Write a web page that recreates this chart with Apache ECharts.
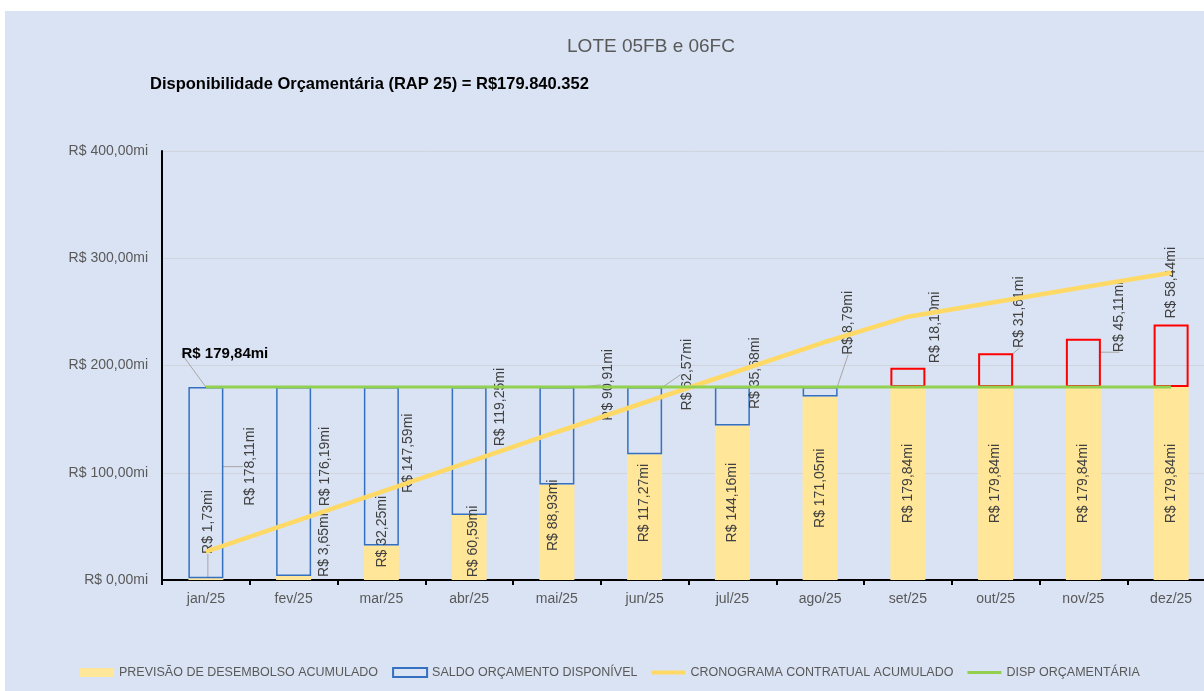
<!DOCTYPE html>
<html>
<head>
<meta charset="utf-8">
<title>LOTE 05FB e 06FC</title>
<script src="https://cdn.jsdelivr.net/npm/echarts@6/dist/echarts.min.js"></script>
<style>
    html, body { margin: 0; padding: 0; background: #ffffff; width: 1204px; height: 691px; overflow: hidden; }
    #main { position: absolute; left: 5px; top: 11px; width: 1210px; height: 680px; background: #DAE3F3; }
</style>
</head>
<body>
<div id="main"></div>
<script>
// meses do eixo x
var meses = ["jan/25", "fev/25", "mar/25", "abr/25", "mai/25", "jun/25", "jul/25", "ago/25", "set/25", "out/25", "nov/25", "dez/25"];
// valores em R$ milhoes
var previsao = [1.73, 3.65, 32.25, 60.59, 88.93, 117.27, 144.16, 171.05, 179.84, 179.84, 179.84, 179.84];
var saldo = [178.11, 176.19, 147.59, 119.25, 90.91, 62.57, 35.68, 8.79, 18.10, 31.61, 45.11, 58.44];
var cronograma = [26.4, 54.3, 82.2, 110.1, 138.0, 165.5, 193.0, 220.5, 245.5, 259.2, 272.9, 286.5];
var disponibilidade = 179.84;
// eixo y
var yMax = 400;
var yStep = 100;

// deslocamento dos rotulos (callouts do excel), [dx, dy] em px na tela
var previsaoShift = [[2, -57], [31, -33], [1, -31], [4, -6], [-4, -17], [0, -14], [0, 0], [0, 0], [0, 0], [0, 0], [0, 0], [0, 0]];
var saldoShift = [[44, -16], [32, -15], [27, -13], [31, -44], [51, -51], [43, -46], [23, -33], [28, -69], [27, -50], [24, -58], [36, -46], [0, -73]];
var previsaoLeader = [true, false, false, false, false, false, false, false, false, false, false, false];
var saldoLeader = [true, false, false, false, true, true, false, true, false, true, true, false];

function fmtMi(v) {
    return "R$ " + Number(v).toFixed(2).replace(".", ",") + "mi";
}

// rotulo girado 90 graus: dx/dy do labelLayout ficam no eixo do texto
function shiftRotated(s) {
    return {dx: -s[1], dy: s[0]};
}

var corTexto = "#595959";
var fonte = "'Liberation Sans', Arial, sans-serif";

var previsaoData = previsao.map(function (v, i) {
    var item = {value: v};
    if (previsaoLeader[i]) {
        item.labelLine = {show: true};
    }
    return item;
});

var saldoData = saldo.map(function (v, i) {
    var item = {value: v};
    // acima da disponibilidade -> borda vermelha
    if (previsao[i] >= disponibilidade) {
        item.itemStyle = {borderColor: "#FF0000", borderWidth: 2};
    }
    if (saldoLeader[i]) {
        item.labelLine = {show: true};
    }
    return item;
});

var dispData = meses.map(function (m, i) {
    var item = {value: disponibilidade};
    if (i === 0) {
        item.label = {
            show: true,
            position: "top",
            fontWeight: "bold",
            fontSize: 15,
            color: "#000000",
            fontFamily: fonte,
            formatter: function (p) { return fmtMi(p.value); }
        };
        item.labelLine = {show: true};
    }
    return item;
});

var chart = echarts.init(document.getElementById("main"));
var option = {
    animation: false,
    textStyle: {fontFamily: fonte},
    title: [
        {
            text: "LOTE 05FB e 06FC",
            left: 646,
            top: 26,
            padding: 0,
            textAlign: "center",
            textStyle: {fontSize: 19, fontWeight: "normal", color: corTexto, fontFamily: fonte}
        },
        {
            text: "Disponibilidade Orçamentária (RAP 25) = R$179.840.352",
            left: 145,
            top: 65,
            padding: 0,
            textStyle: {fontSize: 16.5, fontWeight: "bold", color: "#000000", fontFamily: fonte}
        }
    ],
    legend: {
        left: 75,
        top: 655,
        padding: 0,
        itemWidth: 34,
        itemHeight: 9,
        itemGap: 14,
        textStyle: {fontSize: 12.5, color: corTexto, fontFamily: fonte},
        data: [
            {name: "PREVISÃO DE DESEMBOLSO ACUMULADO", icon: "rect"},
            {name: "SALDO ORÇAMENTO DISPONÍVEL", icon: "rect"},
            {name: "CRONOGRAMA CONTRATUAL ACUMULADO", icon: "path://M0,0h34v4h-34z"},
            {name: "DISP ORÇAMENTÁRIA", icon: "path://M0,0h34v3h-34z"}
        ]
    },
    grid: {
        left: 157,
        top: 140,
        right: 0,
        bottom: 111
    },
    xAxis: {
        type: "category",
        data: meses,
        axisLine: {lineStyle: {color: "#000000", width: 2}},
        axisTick: {show: true, length: 5, lineStyle: {color: "#000000", width: 2}},
        axisLabel: {fontSize: 14, color: corTexto, margin: 12}
    },
    yAxis: {
        type: "value",
        min: 0,
        max: yMax,
        interval: yStep,
        axisLine: {show: true, lineStyle: {color: "#000000", width: 2}},
        axisTick: {show: false},
        splitLine: {lineStyle: {color: "#D0D4DC", width: 1}},
        axisLabel: {fontSize: 14, color: corTexto, margin: 14, formatter: fmtMi}
    },
    series: [
        {
            name: "PREVISÃO DE DESEMBOLSO ACUMULADO",
            type: "bar",
            stack: "total",
            barWidth: 35,
            itemStyle: {color: "#FFE699"},
            label: {
                show: true,
                position: "inside",
                rotate: 90,
                fontSize: 14,
                color: "#404040",
                formatter: function (p) { return fmtMi(p.value); }
            },
            labelLine: {show: false, lineStyle: {color: "#A6A6A6", width: 1}},
            labelLayout: function (p) {
                return shiftRotated(previsaoShift[p.dataIndex]);
            },
            data: previsaoData
        },
        {
            name: "SALDO ORÇAMENTO DISPONÍVEL",
            type: "bar",
            stack: "total",
            barWidth: 35,
            itemStyle: {color: "rgba(0,0,0,0)", borderColor: "#3470BF", borderWidth: 1.5},
            label: {
                show: true,
                position: "inside",
                rotate: 90,
                fontSize: 14,
                color: "#404040",
                formatter: function (p) { return fmtMi(p.value); }
            },
            labelLine: {show: false, lineStyle: {color: "#A6A6A6", width: 1}},
            labelLayout: function (p) {
                return shiftRotated(saldoShift[p.dataIndex]);
            },
            data: saldoData
        },
        {
            name: "CRONOGRAMA CONTRATUAL ACUMULADO",
            type: "line",
            symbol: "none",
            lineStyle: {color: "#FFD966", width: 4.5},
            itemStyle: {color: "#FFD966"},
            data: cronograma
        },
        {
            name: "DISP ORÇAMENTÁRIA",
            type: "line",
            symbol: "circle",
            symbolSize: 0,
            lineStyle: {color: "#92D050", width: 3},
            itemStyle: {color: "#92D050"},
            labelLine: {show: false, lineStyle: {color: "#A6A6A6", width: 1}},
            labelLayout: function (p) {
                return {dx: 19, dy: -21};
            },
            data: dispData
        }
    ]
};
chart.setOption(option);
</script>
</body>
</html>
